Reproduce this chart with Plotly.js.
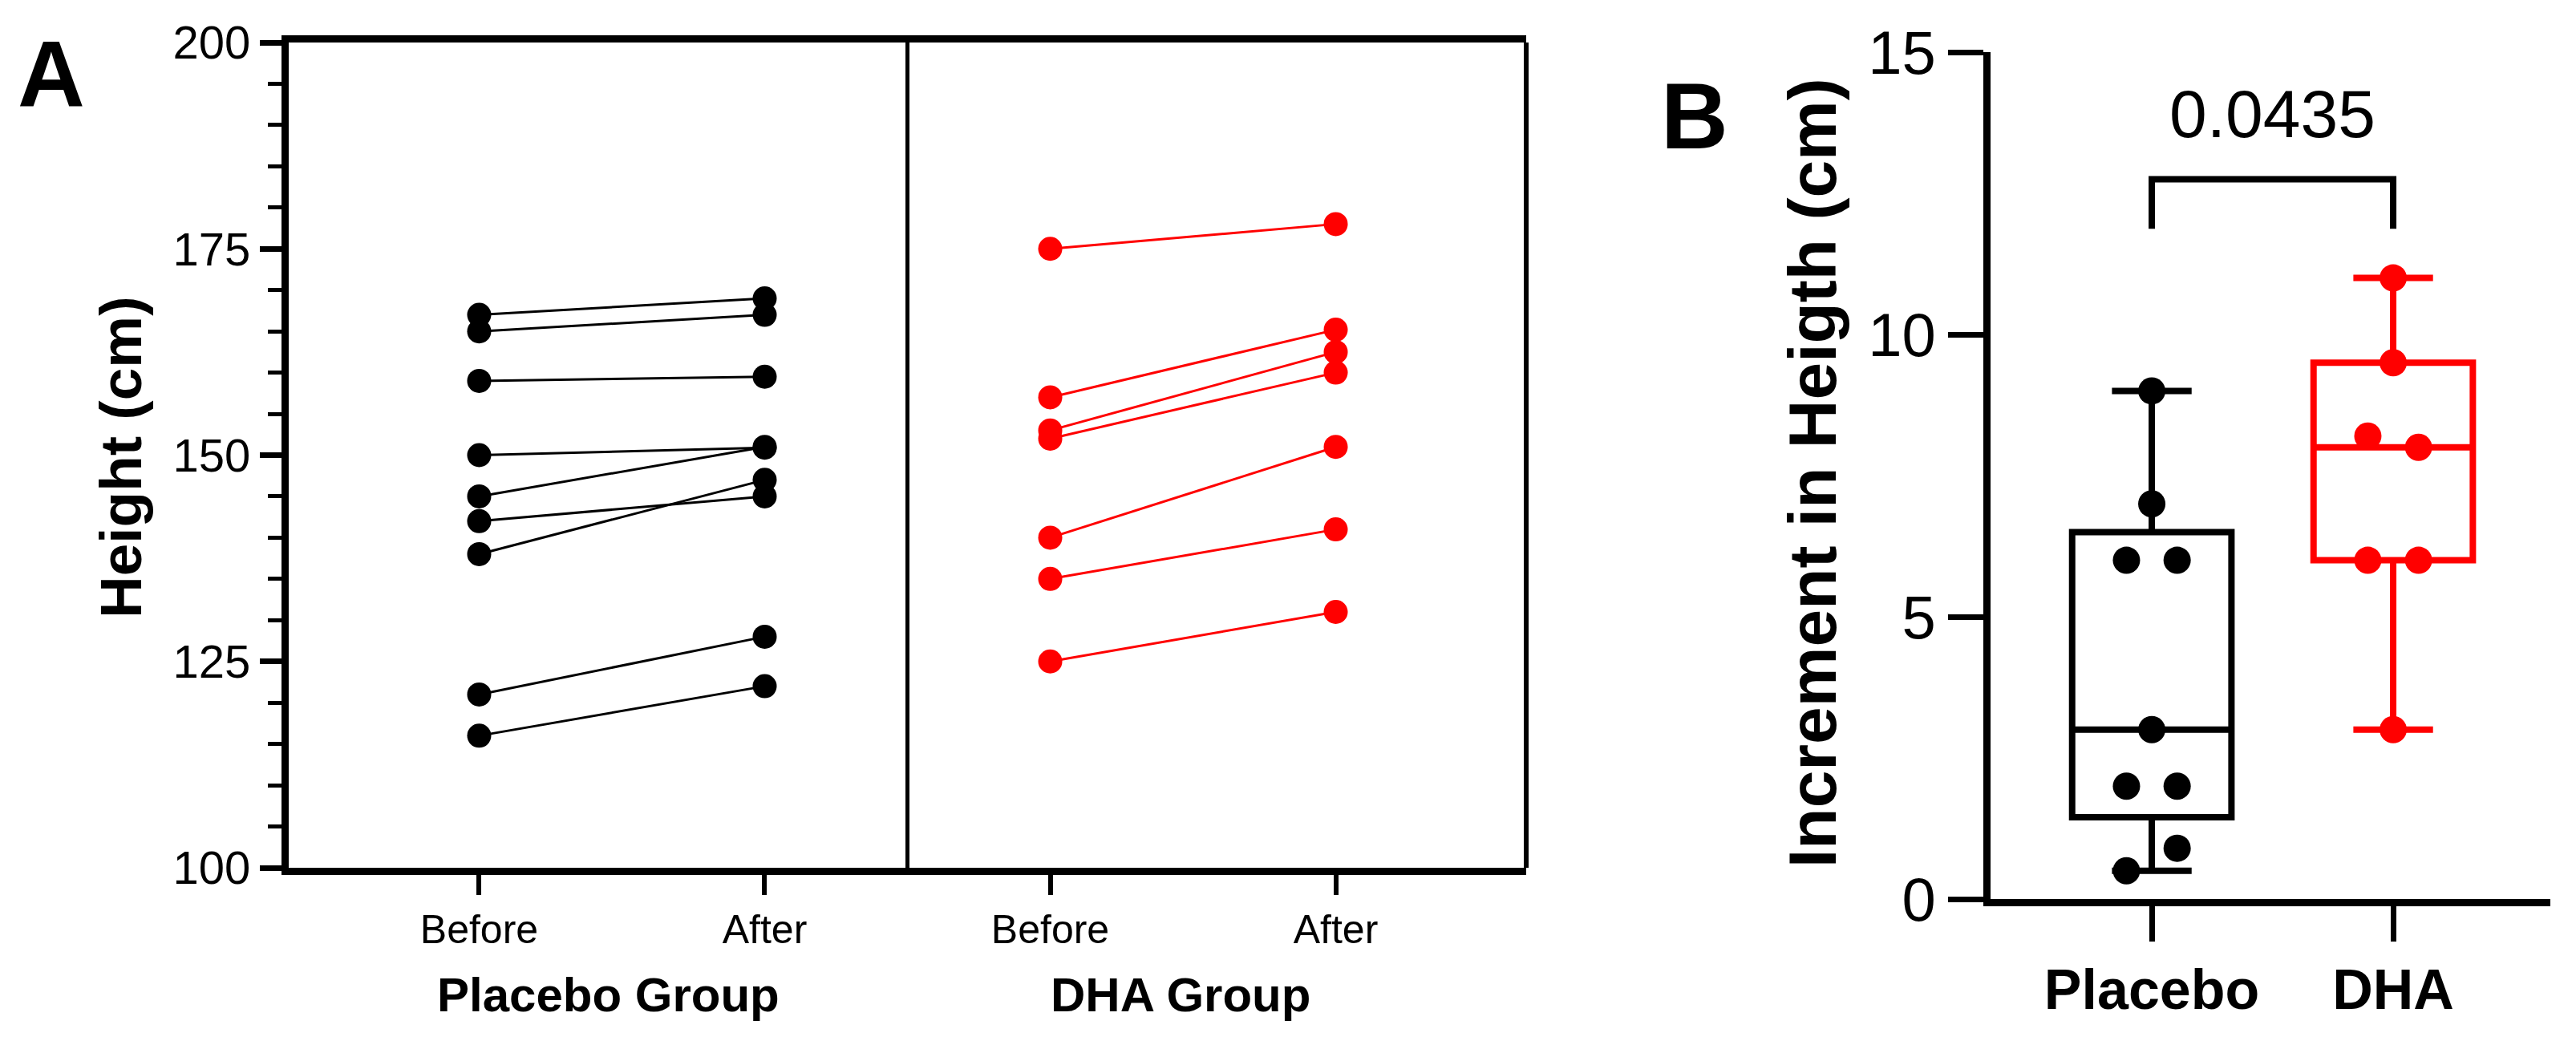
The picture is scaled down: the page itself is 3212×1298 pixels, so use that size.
<!DOCTYPE html>
<html>
<head>
<meta charset="utf-8">
<script src="https://cdn.plot.ly/plotly-3.0.1.min.js"></script>
<style>html,body{margin:0;padding:0;background:#fff;}#chart{width:3212px;height:1298px;}</style>
</head>
<body>
<div id="chart"></div>
<script>
// ---------- DATA ----------
const timeLabels = ["Before", "After"];
const groupLabels = ["Placebo Group", "DHA Group"];
const placeboBefore = [167, 165, 159, 150, 145, 142, 138, 121, 116];
const placeboAfter  = [169, 167, 159.5, 150.9, 151, 145, 147, 128, 122];
const dhaBefore = [175, 157, 153, 152, 140, 135, 125];
const dhaAfter  = [178, 165.2, 162.5, 160, 151, 141, 131];
const boxCategories = ["Placebo", "DHA"];
const pValueText = "0.0435";

// ---------- STYLE ----------
const FONT = "Arial, 'Liberation Sans', sans-serif";
const BLACK = "#000000";
const RED = "#FF0000";
const W = 3212, H = 1298;
const px = v => v / W;
const py = v => 1 - v / H;

const traces = [];
// Panel A: before/after lines
function addPairs(before, after, xOffset, color) {
  for (let i = 0; i < before.length; i++) {
    traces.push({
      type: "scatter", mode: "lines+markers",
      x: [xOffset, xOffset + 1], y: [before[i], after[i]],
      xaxis: "x", yaxis: "y",
      line: {color: color, width: 3},
      marker: {color: color, size: 30},
      showlegend: false, hoverinfo: "skip"
    });
  }
}
addPairs(placeboBefore, placeboAfter, 0, BLACK);
addPairs(dhaBefore, dhaAfter, 2, RED);

// Panel B: increments (after - before)
const placeboInc = placeboBefore.map((b, i) => +(placeboAfter[i] - b).toFixed(2));
const dhaInc = dhaBefore.map((b, i) => +(dhaAfter[i] - b).toFixed(2));

function swarm(values, center, thr, step) {
  const groups = [];
  const gIdx = values.map(v => {
    let g = groups.findIndex(gr => gr.some(u => Math.abs(u - v) < thr));
    if (g < 0) { groups.push([v]); g = groups.length - 1; } else groups[g].push(v);
    return [g, groups[g].length - 1];
  });
  return gIdx.map(([g, k]) => center + (k - (groups[g].length - 1) / 2) * step);
}

[[placeboInc, 0, BLACK], [dhaInc, 1, RED]].forEach(([vals, pos, color]) => {
  traces.push({
    type: "box", y: vals, x0: pos, xaxis: "x2", yaxis: "y2",
    quartilemethod: "exclusive", boxpoints: false,
    width: 0.66, whiskerwidth: 0.5,
    line: {color: color, width: 8}, fillcolor: "rgba(255,255,255,0)",
    showlegend: false, hoverinfo: "skip"
  });
});
[[placeboInc, 0, BLACK], [dhaInc, 1, RED]].forEach(([vals, pos, color]) => {
  traces.push({
    type: "scatter", mode: "markers",
    x: swarm(vals, pos, 0.5, 0.21), y: vals,
    xaxis: "x2", yaxis: "y2",
    marker: {color: color, size: 34},
    showlegend: false, hoverinfo: "skip"
  });
});

const layout = {
  width: W, height: H,
  margin: {l: 0, r: 0, t: 0, b: 0},
  paper_bgcolor: "#fff", plot_bgcolor: "rgba(0,0,0,0)",
  showlegend: false,
  font: {family: FONT, color: BLACK},
  xaxis: {
    domain: [px(360), px(1903)], range: [-0.667, 3.667],
    tickmode: "array", tickvals: [0, 1, 2, 3],
    ticktext: [timeLabels[0], timeLabels[1], timeLabels[0], timeLabels[1]],
    ticks: "outside", ticklen: 25, tickwidth: 6, tickcolor: BLACK,
    showline: true, linewidth: 9, linecolor: BLACK, mirror: true,
    showgrid: false, zeroline: false,
    tickfont: {family: FONT, size: 50, color: BLACK},
    anchor: "y"
  },
  yaxis: {
    domain: [py(1082), py(53)], range: [100, 200],
    tickmode: "linear", tick0: 100, dtick: 25,
    ticks: "outside", ticklen: 27, tickwidth: 7, tickcolor: BLACK,
    minor: {tickmode: "linear", tick0: 100, dtick: 5, ticks: "outside", ticklen: 17, tickwidth: 5, tickcolor: BLACK, showgrid: false},
    showline: true, linewidth: 9, linecolor: BLACK,
    showgrid: false, zeroline: false,
    tickfont: {family: FONT, size: 58, color: BLACK},
    anchor: "x"
  },
  xaxis2: {
    domain: [px(2482), px(3180)], range: [-0.668, 1.651],
    tickmode: "array", tickvals: [0, 1], ticktext: boxCategories,
    ticks: "outside", ticklen: 44, tickwidth: 7, tickcolor: BLACK,
    showline: true, linewidth: 9, linecolor: BLACK,
    showgrid: false, zeroline: false,
    tickfont: {family: FONT, size: 70, color: BLACK, weight: "bold"},
    anchor: "y2"
  },
  yaxis2: {
    domain: [py(1121), py(65)], range: [0, 15],
    tickmode: "linear", tick0: 0, dtick: 5,
    ticks: "outside", ticklen: 44, tickwidth: 7, tickcolor: BLACK,
    showline: true, linewidth: 9, linecolor: BLACK,
    showgrid: false, zeroline: false,
    tickfont: {family: FONT, size: 76, color: BLACK},
    anchor: "x2"
  },
  shapes: [
    {type: "line", xref: "x", yref: "y domain", x0: 1.5, x1: 1.5, y0: 0, y1: 1, line: {color: BLACK, width: 5}},
    {type: "line", xref: "x domain", yref: "y domain", x0: 1, x1: 1, y0: 0, y1: 1, line: {color: BLACK, width: 6}},
    {type: "path", xref: "x2", yref: "y2", path: "M0,11.87 L0,12.75 L1,12.75 L1,11.87", line: {color: BLACK, width: 8}}
  ],
  annotations: [
    {text: "A", xref: "paper", yref: "paper", x: px(64), y: py(93), xanchor: "center", yanchor: "middle", showarrow: false, font: {family: FONT, size: 116, weight: "bold", color: BLACK}},
    {text: "B", xref: "paper", yref: "paper", x: px(2113), y: py(145), xanchor: "center", yanchor: "middle", showarrow: false, font: {family: FONT, size: 116, weight: "bold", color: BLACK}},
    {text: "Height (cm)", xref: "paper", yref: "paper", x: px(150), y: py(570), xanchor: "center", yanchor: "middle", textangle: -90, showarrow: false, font: {family: FONT, size: 73, weight: "bold", color: BLACK}},
    {text: "Increment in Heigth (cm)", xref: "paper", yref: "paper", x: px(2260), y: py(590), xanchor: "center", yanchor: "middle", textangle: -90, showarrow: false, font: {family: FONT, size: 84, weight: "bold", color: BLACK}},
    {text: groupLabels[0], xref: "paper", yref: "paper", x: px(758), y: py(1240), xanchor: "center", yanchor: "middle", showarrow: false, font: {family: FONT, size: 60, weight: "bold", color: BLACK}},
    {text: groupLabels[1], xref: "paper", yref: "paper", x: px(1472), y: py(1240), xanchor: "center", yanchor: "middle", showarrow: false, font: {family: FONT, size: 60, weight: "bold", color: BLACK}},
    {text: pValueText, xref: "x2", yref: "paper", x: 0.5, y: py(142), xanchor: "center", yanchor: "middle", showarrow: false, font: {family: FONT, size: 84, color: BLACK}}
  ]
};

Plotly.newPlot("chart", traces, layout, {staticPlot: true, displayModeBar: false});
</script>
</body>
</html>
